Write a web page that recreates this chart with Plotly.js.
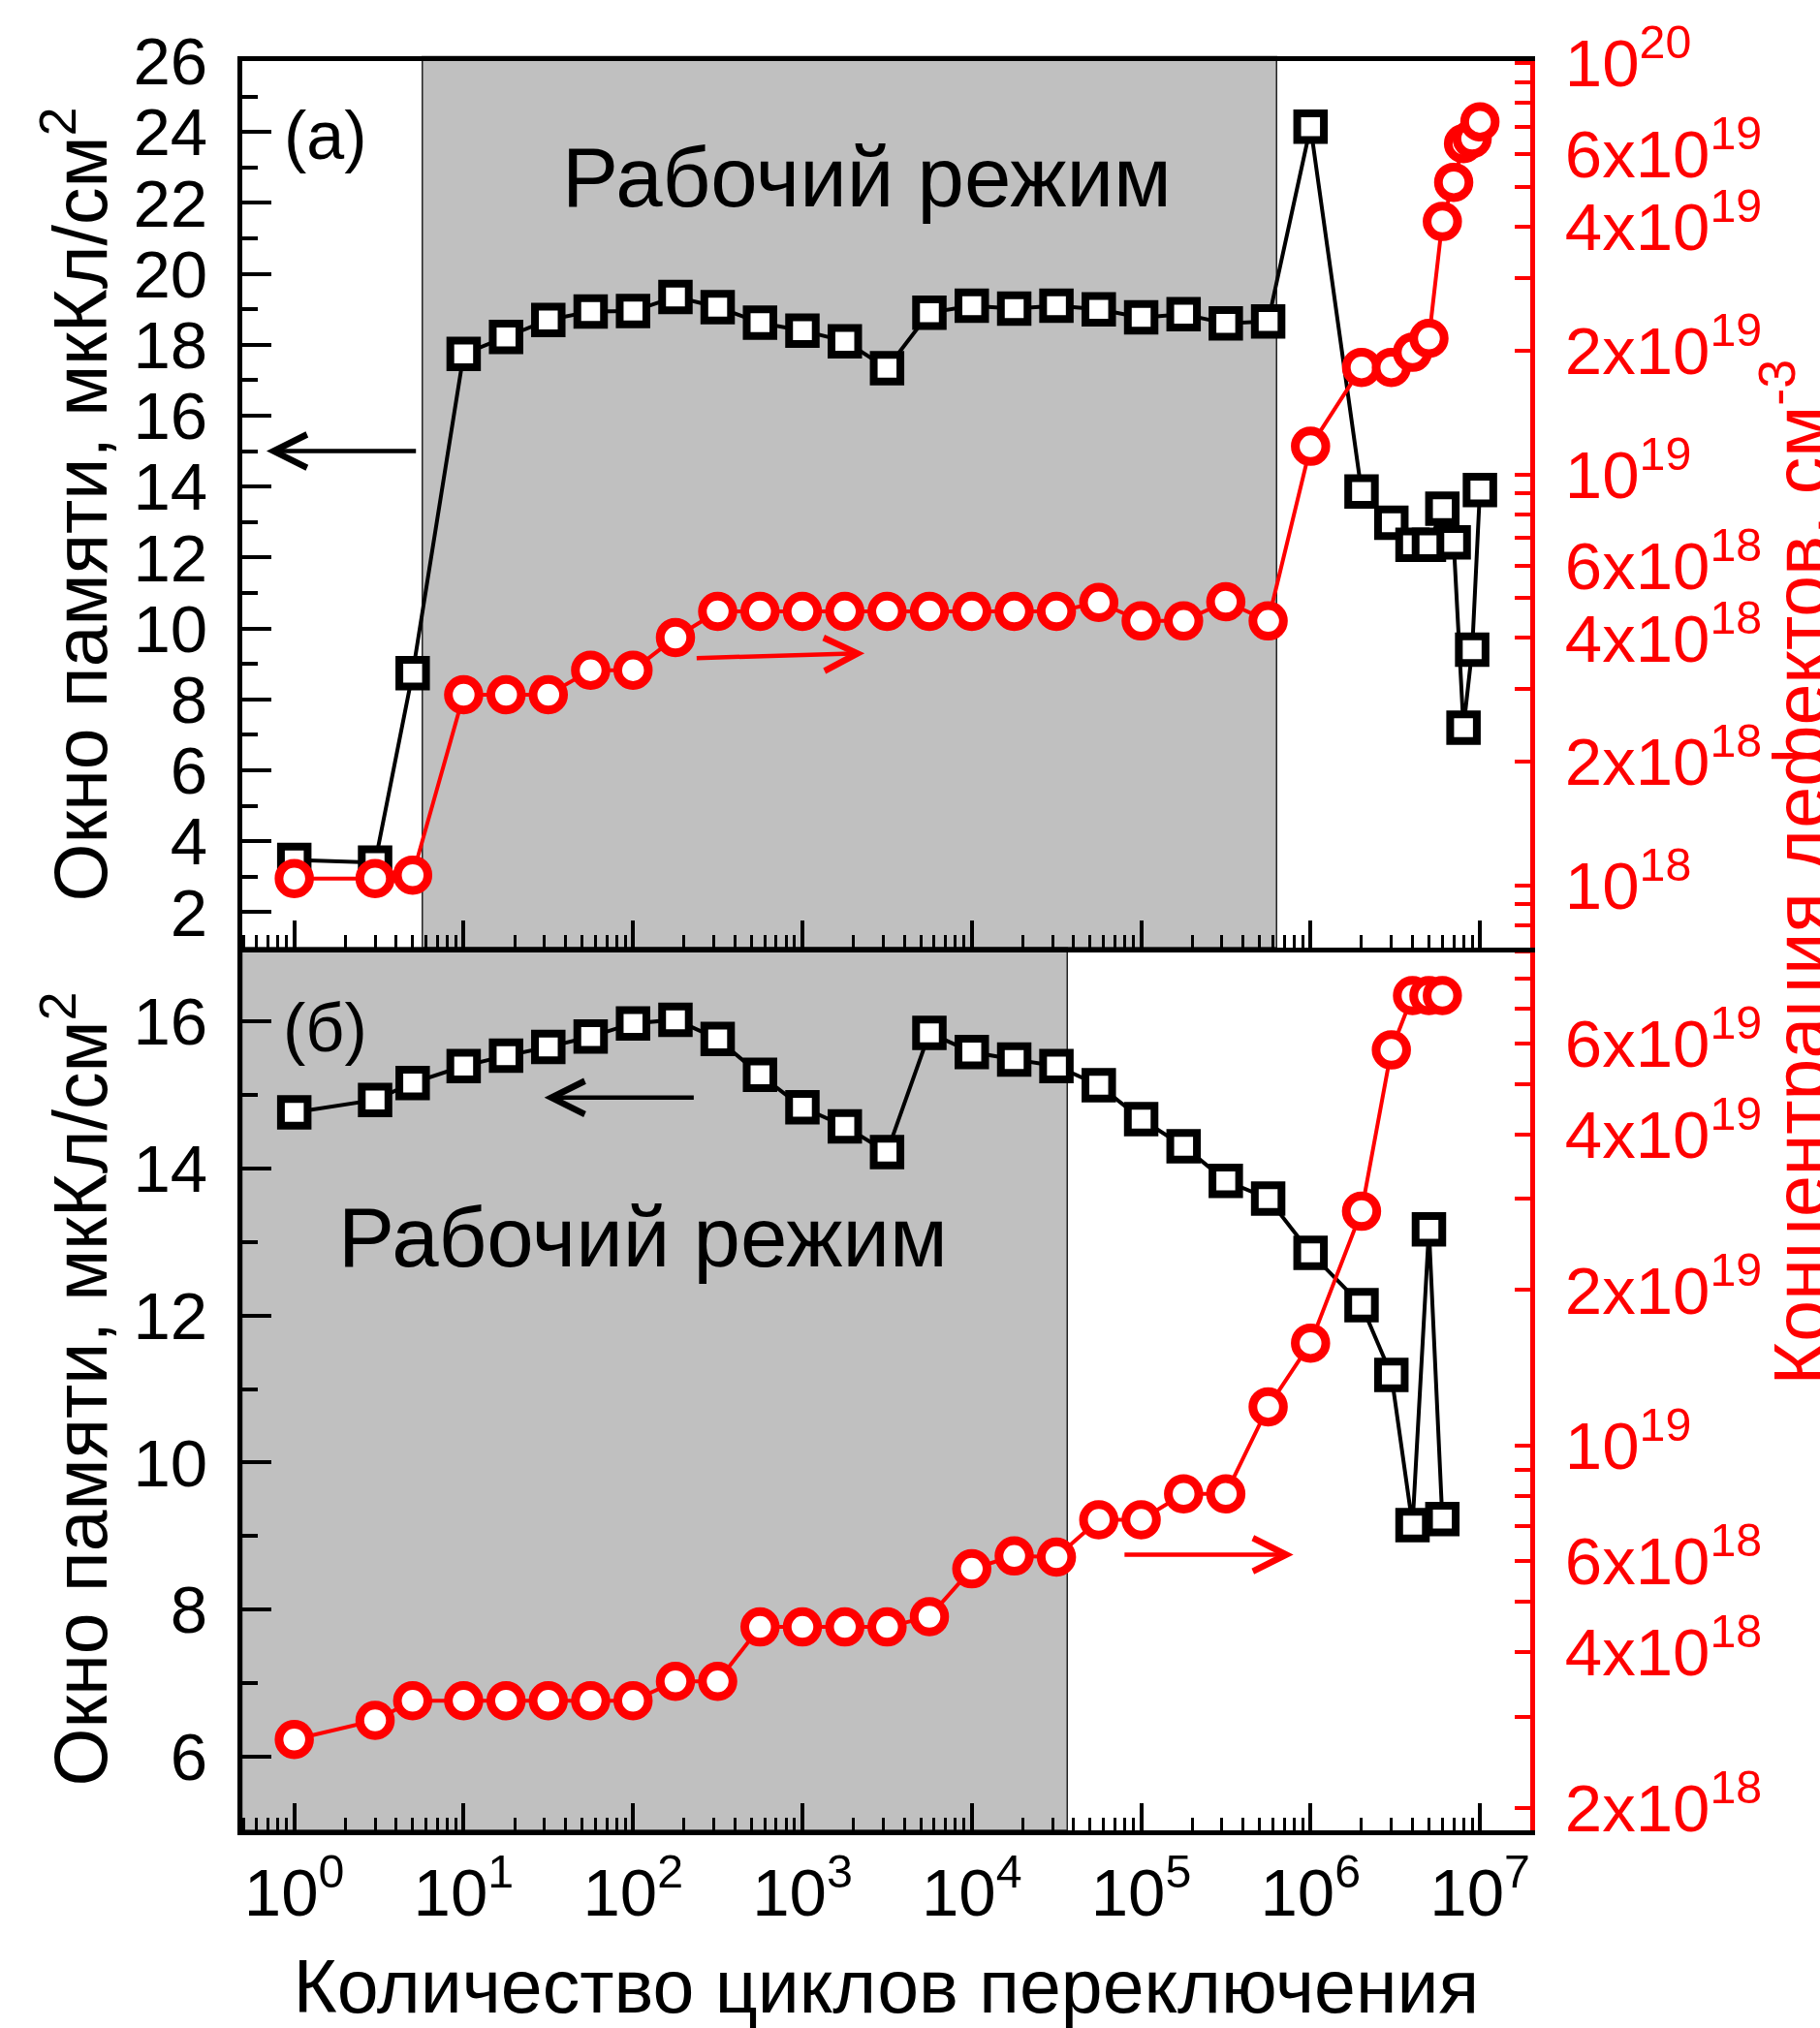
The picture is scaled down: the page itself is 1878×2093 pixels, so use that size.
<!DOCTYPE html>
<html>
<head>
<meta charset="utf-8">
<script src="https://cdn.plot.ly/plotly-3.0.1.min.js"></script>
<style>
html,body{margin:0;padding:0;background:#fff;}
#chart{width:1878px;height:2093px;}
</style>
</head>
<body>
<div id="chart"></div>
<script>
// ---------- data ----------
const cyclesA = [1,3,5,10,17.8,31.6,56.2,100,178,316,562,1000,1780,3160,5620,10000,17800,31600,56200,100000,178000,316000,562000,1000000,2000000,3000000,4000000,5000000,6000000,7000000,8000000,9000000,10000000];
const windowA = [3.47,3.4,8.74,17.74,18.22,18.7,18.94,18.95,19.35,19.06,18.62,18.4,18.1,17.34,18.9,19.1,19.02,19.1,19.0,18.77,18.86,18.6,18.66,24.15,13.86,12.98,12.36,12.36,13.38,12.43,7.2,9.4,13.9];
const defectsA = [1.04e18,1.04e18,1.06e18,2.91e18,2.91e18,2.91e18,3.34e18,3.34e18,4.01e18,4.64e18,4.64e18,4.64e18,4.64e18,4.64e18,4.64e18,4.64e18,4.64e18,4.64e18,4.88e18,4.40e18,4.40e18,4.9e18,4.4e18,1.17e19,1.82e19,1.82e19,1.98e19,2.14e19,4.12e19,5.13e19,6.37e19,6.55e19,7.2e19];

const cyclesB = [1,3,5,10,17.8,31.6,56.2,100,178,316,562,1000,1780,3160,5620,10000,17800,31600,56200,100000,178000,316000,562000,1000000,2000000,3000000,4000000,5000000,6000000];
const windowB = [14.76,14.93,15.16,15.39,15.53,15.65,15.79,15.97,16.02,15.76,15.27,14.83,14.57,14.22,15.84,15.58,15.48,15.39,15.13,14.67,14.30,13.83,13.59,12.85,12.14,11.19,9.15,13.17,9.23];
const defectsB = [2.71e18,2.95e18,3.22e18,3.22e18,3.22e18,3.22e18,3.22e18,3.22e18,3.51e18,3.51e18,4.47e18,4.47e18,4.47e18,4.47e18,4.68e18,5.79e18,6.13e18,6.1e18,7.2e18,7.2e18,8.08e18,8.08e18,1.19e19,1.58e19,2.84e19,5.82e19,7.41e19,7.41e19,7.41e19];

// working-mode regions (cycles)
const workA = [5.7, 6.3e5];
const workB = [0.49, 3.66e4];

// tick labels
const xTickVals = [1,10,100,1e3,1e4,1e5,1e6,1e7];
const xTickText = ['10<sup>0</sup>','10<sup>1</sup>','10<sup>2</sup>','10<sup>3</sup>','10<sup>4</sup>','10<sup>5</sup>','10<sup>6</sup>','10<sup>7</sup>'];
const rTickValsA = [1e18,2e18,4e18,6e18,1e19,2e19,4e19,6e19,1e20];
const rTickTextA = ['10<sup>18</sup>','2x10<sup>18</sup>','4x10<sup>18</sup>','6x10<sup>18</sup>','10<sup>19</sup>','2x10<sup>19</sup>','4x10<sup>19</sup>','6x10<sup>19</sup>','10<sup>20</sup>'];
const rTickValsB = [2e18,4e18,6e18,1e19,2e19,4e19,6e19];
const rTickTextB = ['2x10<sup>18</sup>','4x10<sup>18</sup>','6x10<sup>18</sup>','10<sup>19</sup>','2x10<sup>19</sup>','4x10<sup>19</sup>','6x10<sup>19</sup>'];
const decadeTicks = [1e18,1e19,1e20];

const yTitle = 'Окно памяти, мкКл/см<sup>2</sup>';
const y2Title = 'Концентрация дефектов, см<sup>-3</sup>';
const xTitle = 'Количество циклов переключения';
const modeLabel = 'Рабочий режим';

// ---------- helpers ----------
function logMinor(d0, d1){
  const v = [];
  for(let d = d0; d <= d1; d++) for(let k = 1; k <= 9; k++) v.push(k*Math.pow(10,d));
  return v;
}
const FONT = 'Liberation Sans, Arial, sans-serif';
const RED = '#ff0000';
const TICKSIZE = 69, TITLESIZE = 77;

// ---------- geometry ----------
const W = 1878, H = 2093;
const L = 250, R = 1579, T = 63, MID = 978, B = 1889;
const split = (B - MID) / (B - T);

const base = {showline:true, linewidth:5, ticks:'inside', tickwidth:4, showgrid:false, zeroline:false, automargin:false, fixedrange:true};

const squareStyle = {symbol:'square', size:27.5, color:'white', line:{color:'black', width:8}};
const circleStyle = {symbol:'circle', size:31.5, color:'white', line:{color:RED, width:9}};

const traces = [
  {x:cyclesA, y:windowA, xaxis:'x2', yaxis:'y', mode:'lines+markers', line:{color:'black', width:4}, marker:squareStyle, showlegend:false},
  {x:cyclesA, y:defectsA, xaxis:'x2', yaxis:'y2', mode:'lines+markers', line:{color:RED, width:4}, marker:circleStyle, showlegend:false},
  {x:cyclesB, y:windowB, xaxis:'x', yaxis:'y3', mode:'lines+markers', line:{color:'black', width:4}, marker:squareStyle, showlegend:false},
  {x:cyclesB, y:defectsB, xaxis:'x', yaxis:'y4', mode:'lines+markers', line:{color:RED, width:4}, marker:circleStyle, showlegend:false}
];

const xMinor = {tickmode:'array', tickvals:logMinor(-1,7), ticks:'inside', ticklen:13, tickwidth:3, tickcolor:'black'};
const rMinor = {tickmode:'array', tickvals:logMinor(17,20), ticks:'inside', ticklen:16, tickwidth:4, tickcolor:RED};

const layout = {
  width:W, height:H,
  margin:{l:L, r:W-R, t:T, b:H-B, pad:0},
  paper_bgcolor:'white', plot_bgcolor:'white',
  font:{family:FONT, color:'black', size:TICKSIZE},
  showlegend:false,
  xaxis:Object.assign({}, base, {
    type:'log', range:[-0.307,7.297], domain:[0,1], anchor:'y3',
    linecolor:'black', tickcolor:'black', ticklen:28,
    tickmode:'array', tickvals:xTickVals, ticktext:xTickText,
    tickfont:{size:TICKSIZE, color:'black', family:FONT},
    minor:xMinor,
    title:{text:xTitle, font:{size:TITLESIZE, color:'black', family:FONT}, standoff:39}
  }),
  xaxis2:Object.assign({}, base, {
    type:'log', range:[-0.307,7.297], domain:[0,1], anchor:'y', matches:'x',
    linecolor:'black', tickcolor:'black', ticklen:28, mirror:true,
    tickmode:'array', tickvals:xTickVals, ticktext:xTickText, showticklabels:false,
    minor:xMinor
  }),
  yaxis:Object.assign({}, base, {
    domain:[split,1], anchor:'x2', range:[1,26],
    tickmode:'linear', tick0:0, dtick:2, ticklen:30, ticklabelstandoff:17,
    linecolor:'black', tickcolor:'black',
    tickfont:{size:TICKSIZE, color:'black', family:FONT},
    minor:{dtick:1, tick0:0, ticks:'inside', ticklen:16, tickwidth:4, tickcolor:'black'},
    title:{text:yTitle, font:{size:TITLESIZE, color:'black', family:FONT}, standoff:3}
  }),
  yaxis2:Object.assign({}, base, {
    type:'log', overlaying:'y', side:'right', anchor:'x2', range:[17.849,20.005],
    linecolor:RED, tickcolor:RED, ticklen:16, ticklabelstandoff:17,
    tickmode:'array', tickvals:rTickValsA, ticktext:rTickTextA,
    tickfont:{size:TICKSIZE, color:RED, family:FONT},
    minor:rMinor
  }),
  yaxis5:Object.assign({}, base, {
    type:'log', overlaying:'y', side:'right', anchor:'x2', range:[17.849,20.005],
    showline:false, tickcolor:RED, ticklen:31, showticklabels:false,
    tickmode:'array', tickvals:decadeTicks
  }),
  yaxis3:Object.assign({}, base, {
    domain:[0,split], anchor:'x', range:[5,17],
    tickmode:'linear', tick0:0, dtick:2, ticklen:30, ticklabelstandoff:17,
    linecolor:'black', tickcolor:'black',
    tickfont:{size:TICKSIZE, color:'black', family:FONT},
    minor:{dtick:1, tick0:0, ticks:'inside', ticklen:16, tickwidth:4, tickcolor:'black'},
    title:{text:yTitle, font:{size:TITLESIZE, color:'black', family:FONT}, standoff:3}
  }),
  yaxis4:Object.assign({}, base, {
    type:'log', overlaying:'y3', side:'right', anchor:'x', range:[18.2575,19.9625],
    linecolor:RED, tickcolor:RED, ticklen:16, ticklabelstandoff:17,
    tickmode:'array', tickvals:rTickValsB, ticktext:rTickTextB,
    tickfont:{size:TICKSIZE, color:RED, family:FONT},
    minor:rMinor
  }),
  yaxis6:Object.assign({}, base, {
    type:'log', overlaying:'y3', side:'right', anchor:'x', range:[18.2575,19.9625],
    showline:false, tickcolor:RED, ticklen:31, showticklabels:false,
    tickmode:'array', tickvals:decadeTicks
  }),
  shapes:[
    {type:'rect', xref:'x2', yref:'y domain', x0:workA[0], x1:workA[1], y0:0, y1:1.005,
     fillcolor:'#c0c0c0', line:{color:'#222', width:1.5}, layer:'below'},
    {type:'rect', xref:'x', yref:'y3 domain', x0:workB[0], x1:workB[1], y0:0, y1:1,
     fillcolor:'#c0c0c0', line:{color:'#222', width:1.5}, layer:'below'}
  ],
  annotations:[
    {xref:'x domain', yref:'y domain', x:0.0647, y:0.916, text:'(а)', showarrow:false,
     font:{size:70, color:'black', family:FONT}, xanchor:'center', yanchor:'middle'},
    {xref:'x domain', yref:'y3 domain', x:0.0647, y:0.909, text:'(б)', showarrow:false,
     font:{size:70, color:'black', family:FONT}, xanchor:'center', yanchor:'middle'},
    {xref:'x domain', yref:'y domain', x:0.4846, y:0.869, text:modeLabel, showarrow:false,
     font:{size:87, color:'black', family:FONT}, xanchor:'center', yanchor:'middle'},
    {xref:'x domain', yref:'y3 domain', x:0.311, y:0.672, text:modeLabel, showarrow:false,
     font:{size:87, color:'black', family:FONT}, xanchor:'center', yanchor:'middle'},
    {xref:'paper', yref:'paper', x:1.167, y:0.5416, text:y2Title, textangle:-90, showarrow:false,
     font:{size:TITLESIZE, color:RED, family:FONT}, xanchor:'left', yanchor:'middle'},
    // arrows pointing to the corresponding axes
    {xref:'x2', yref:'y', x:-0.164, y:15, axref:'x2', ayref:'y', ax:0.727, ay:15, text:'',
     showarrow:true, arrowhead:5, arrowsize:1.5, arrowwidth:4.5, arrowcolor:'black', standoff:0, startstandoff:0},
    {xref:'x2', yref:'y2', x:3.367, y:18.565, axref:'x2', ayref:'y2', ax:2.367, ay:18.553, text:'',
     showarrow:true, arrowhead:5, arrowsize:1.5, arrowwidth:4.5, arrowcolor:RED, standoff:0, startstandoff:0},
    {xref:'x', yref:'y3', x:1.476, y:14.96, axref:'x', ayref:'y3', ax:2.367, ay:14.96, text:'',
     showarrow:true, arrowhead:5, arrowsize:1.5, arrowwidth:4.5, arrowcolor:'black', standoff:0, startstandoff:0},
    {xref:'x', yref:'y4', x:5.899, y:18.79, axref:'x', ayref:'y4', ax:4.893, ay:18.79, text:'',
     showarrow:true, arrowhead:5, arrowsize:1.5, arrowwidth:4.5, arrowcolor:RED, standoff:0, startstandoff:0}
  ]
};

Plotly.newPlot('chart', traces, layout, {displayModeBar:false, staticPlot:true});
</script>
</body>
</html>
